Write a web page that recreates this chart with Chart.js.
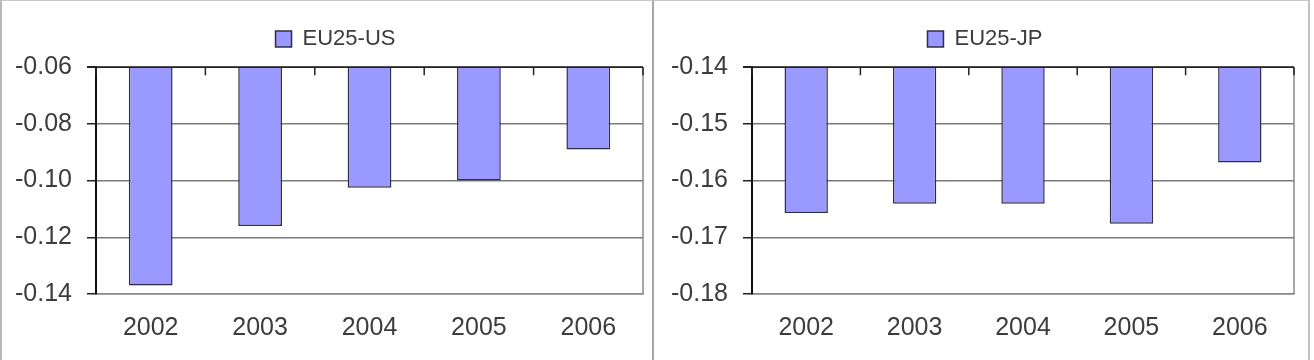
<!DOCTYPE html>
<html>
<head>
<meta charset="utf-8">
<script src="https://cdn.jsdelivr.net/npm/chart.js@4"></script>
<style>
  html, body { margin: 0; padding: 0; background: #fff; }
  body { width: 1314px; height: 360px; position: relative; overflow: hidden; }
  .panel { position: absolute; top: 0; height: 360px; box-sizing: border-box; }
  #p1 { left: 0; width: 654px; border-left: 2px solid #b8b8b8; border-right: 2px solid #a8a8a8; border-top: 1px solid #c8c8c8; }
  #p2 { left: 654px; width: 656px; border-right: 2px solid #c0c0c0; border-top: 1px solid #c8c8c8; }
  canvas { position: absolute; top: 0; left: 0; }
</style>
</head>
<body>
<div class="panel" id="p1"><canvas id="chartUS"></canvas></div>
<div class="panel" id="p2"><canvas id="chartJP"></canvas></div>
<script>
// data
const years = ['2002', '2003', '2004', '2005', '2006'];
const euUs = [-0.137, -0.116, -0.1025, -0.100, -0.089];
const euJp = [-0.1657, -0.1641, -0.1641, -0.1676, -0.1568];
const usRange = [-0.14, -0.06];
const jpRange = [-0.18, -0.14];
const usStep = 0.02;
const jpStep = 0.01;

const textColor = '#3c3c3c';
const barFill = '#9999ff';
const barEdge = '#2e2e48';
const fontFamily = 'Liberation Sans, Arial, sans-serif';

// plot frame: black top line with inward category ticks, gray right edge
const framePlugin = {
  id: 'frame',
  afterDraw(chart) {
    const ctx = chart.ctx;
    const a = chart.chartArea;
    const x = chart.scales.x;
    ctx.save();
    ctx.strokeStyle = '#8a8a8a';
    ctx.lineWidth = 1.5;
    ctx.beginPath();
    ctx.moveTo(a.right, a.top);
    ctx.lineTo(a.right, a.bottom);
    ctx.stroke();
    ctx.strokeStyle = '#222';
    ctx.beginPath();
    ctx.moveTo(a.left - 9, a.top);
    ctx.lineTo(a.right, a.top);
    for (let i = 0; i <= years.length; i++) {
      const px = x.getPixelForValue(i - 0.5);
      ctx.moveTo(px, a.top);
      ctx.lineTo(px, a.top + 8);
    }
    ctx.stroke();
    ctx.restore();
  }
};

// the legend sits a bit right of the canvas centre
const legendShift = {
  id: 'legendShift',
  afterLayout(chart, args, opts) {
    chart.legend.left += opts.dx;
    chart.legend.right += opts.dx;
  }
};

function makeChart(id, label, values, range, step, w, axisW, padRight, dx) {
  const canvas = document.getElementById(id);
  canvas.width = w;
  canvas.height = 359;
  canvas.style.width = w + 'px';
  canvas.style.height = '359px';
  return new Chart(canvas, {
    type: 'bar',
    data: {
      labels: years,
      datasets: [{
        label: label,
        data: values,
        base: range[1],
        backgroundColor: barFill,
        borderColor: barEdge,
        borderWidth: 1.5,
        barPercentage: 0.4,
        categoryPercentage: 1
      }]
    },
    options: {
      responsive: false,
      animation: false,
      layout: { padding: { top: 4, right: padRight, bottom: 0, left: 0 } },
      plugins: {
        tooltip: { enabled: false },
        legendShift: { dx: dx },
        // empty title used as a spacer under the legend
        title: { display: true, text: '', weight: 500, font: { size: 1 }, padding: { top: 0, bottom: 6 } },
        legend: {
          position: 'top',
          labels: {
            color: textColor,
            font: { family: fontFamily, size: 22 },
            boxWidth: 16,
            boxHeight: 16,
            padding: 23
          }
        }
      },
      scales: {
        x: {
          grid: { display: false, drawTicks: false },
          border: { display: true, color: '#8a8a8a', width: 1.5 },
          ticks: {
            color: textColor,
            font: { family: fontFamily, size: 25 },
            padding: 19,
            maxRotation: 0
          },
          afterFit(s) { s.height = 66; }
        },
        y: {
          min: range[0],
          max: range[1],
          grid: { color: '#7a7a7a', lineWidth: 1.5, tickColor: '#222', tickLength: 9 },
          border: { display: true, color: '#111', width: 2 },
          ticks: {
            stepSize: step,
            color: textColor,
            font: { family: fontFamily, size: 25 },
            padding: 15,
            callback: v => v.toFixed(2)
          },
          afterFit(s) { s.width = axisW; }
        }
      }
    },
    plugins: [framePlugin, legendShift]
  });
}

makeChart('chartUS', 'EU25-US', euUs, usRange, usStep, 650, 94, 9, 13);
makeChart('chartJP', 'EU25-JP', euJp, jpRange, jpStep, 652, 98, 12, 11);
</script>
</body>
</html>
